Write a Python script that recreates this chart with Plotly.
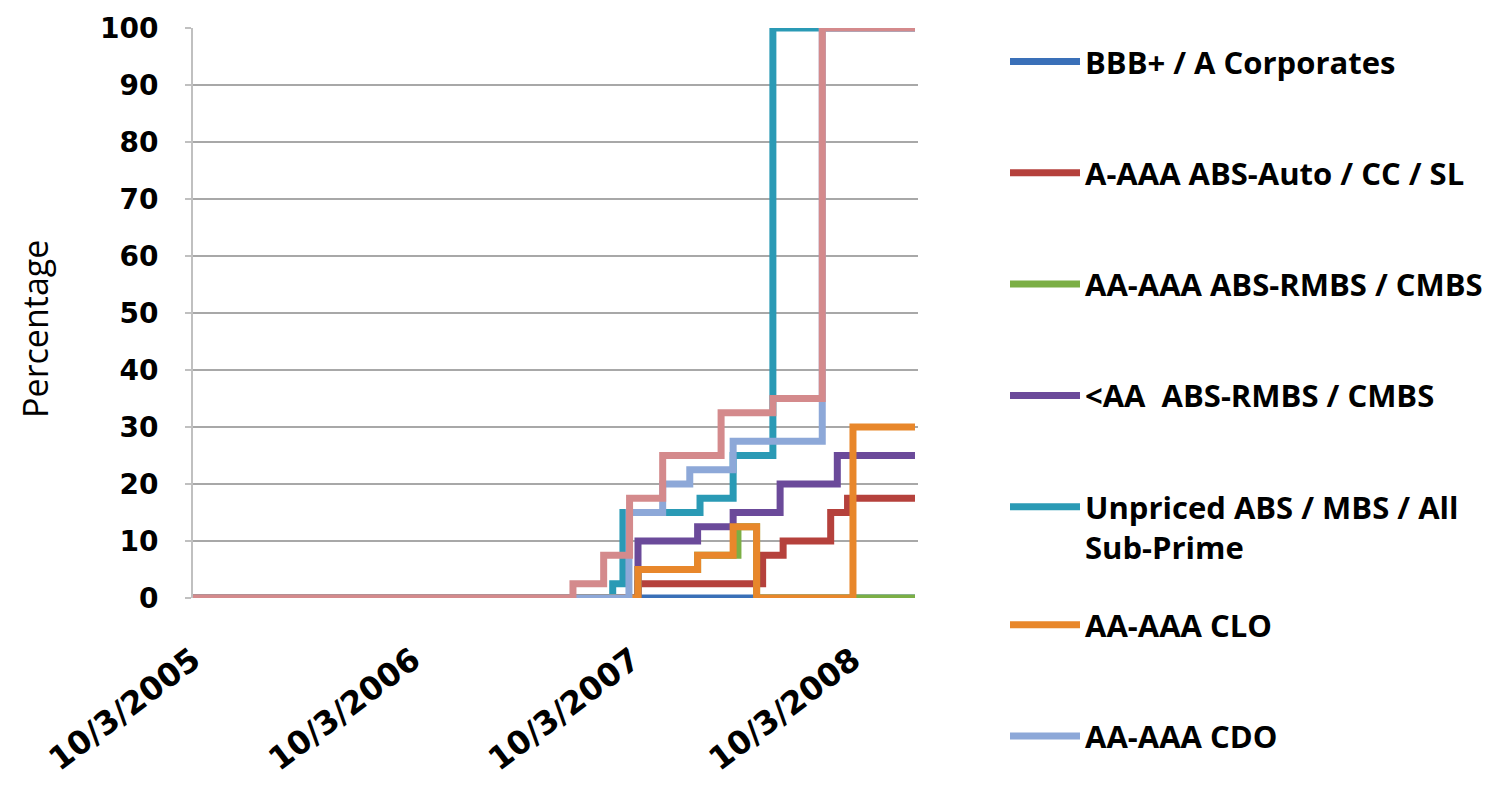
import plotly.graph_objects as go

# ---- data (step functions: value holds from each date until the next) ----
tick_dates = ["2005-10-03", "2006-10-03", "2007-10-03", "2008-10-03"]
tick_labels = ["10/3/2005", "10/3/2006", "10/3/2007", "10/3/2008"]

bbb_dates = ["2005-10-03", "2009-01-14"]
bbb_vals = [0, 0]

auto_dates = ["2005-10-03", "2007-10-12", "2008-05-06", "2008-06-09", "2008-08-27", "2008-09-24", "2009-01-14"]
auto_vals = [0, 2.5, 7.5, 10, 15, 17.5, 17.5]

rmbs_hi_dates = ["2005-10-03", "2007-10-12", "2008-01-19", "2008-03-26", "2008-04-26", "2009-01-14"]
rmbs_hi_vals = [0, 5, 7.5, 12.5, 0, 0]

rmbs_lo_dates = ["2005-10-03", "2007-10-12", "2008-01-19", "2008-03-18", "2008-06-04", "2008-09-07", "2009-01-14"]
rmbs_lo_vals = [0, 10, 12.5, 15, 20, 25, 25]

unpriced_dates = ["2005-10-03", "2007-08-31", "2007-09-17", "2008-01-23", "2008-03-18", "2008-05-23", "2009-01-14"]
unpriced_vals = [0, 2.5, 15, 17.5, 25, 100, 100]

clo_dates = ["2005-10-03", "2007-10-12", "2008-01-19", "2008-03-18", "2008-04-26", "2008-10-03", "2009-01-14"]
clo_vals = [0, 5, 7.5, 12.5, 0, 30, 30]

cdo_dates = ["2005-10-03", "2007-09-27", "2007-11-22", "2008-01-06", "2008-03-18", "2008-08-13", "2009-01-14"]
cdo_vals = [0, 15, 20, 22.5, 27.5, 100, 100]

other_dates = ["2005-10-03", "2007-06-26", "2007-08-16", "2007-09-28", "2007-11-22", "2008-02-27", "2008-05-23", "2008-08-13", "2009-01-14"]
other_vals = [0, 2.5, 7.5, 17.5, 25, 32.5, 35, 100, 100]

series = [
    ("BBB+ / A Corporates", bbb_dates, bbb_vals, "#3A70B8", True, "legend"),
    ("A-AAA ABS-Auto / CC / SL", auto_dates, auto_vals, "#B5413C", True, "legend"),
    ("AA-AAA ABS-RMBS / CMBS", rmbs_hi_dates, rmbs_hi_vals, "#7BAF45", True, "legend"),
    ("<AA  ABS-RMBS / CMBS", rmbs_lo_dates, rmbs_lo_vals, "#6B4A9A", True, "legend"),
    ("Unpriced ABS / MBS / All<br>Sub-Prime", unpriced_dates, unpriced_vals, "#2A9AB5", True, "legend"),
    ("AA-AAA CLO", clo_dates, clo_vals, "#E8872B", True, "legend2"),
    ("AA-AAA CDO", cdo_dates, cdo_vals, "#8DA8D8", True, "legend2"),
    ("Other", other_dates, other_vals, "#D48A8C", False, "legend"),
]

fig = go.Figure()
for i, (name, d, v, c, show, lg) in enumerate(series):
    fig.add_trace(go.Scatter(
        x=d, y=v, name=name, mode="lines",
        line=dict(color=c, width=7, shape="hv"),
        showlegend=show, legendgroup="g%d" % i, legend=lg,
    ))

legend_font = dict(family="Open Sans", size=31, color="black", weight=700)
fig.update_layout(
    width=1510, height=812,
    paper_bgcolor="white", plot_bgcolor="white",
    margin=dict(l=193, r=592, t=28, b=214, autoexpand=False),
    font=dict(family="Open Sans", color="black"),
    legend=dict(
        x=1.120, y=0.988, xanchor="left", yanchor="top",
        font=legend_font, itemwidth=70,
        tracegroupgap=68, valign="top", bgcolor="rgba(0,0,0,0)",
        maxheight=800,
    ),
    legend2=dict(
        x=1.120, y=0.0, xanchor="left", yanchor="top",
        font=legend_font, itemwidth=70,
        tracegroupgap=68, valign="top", bgcolor="rgba(0,0,0,0)",
        maxheight=800,
    ),
    showlegend=True,
    annotations=[dict(
        text="Percentage", xref="paper", yref="paper",
        x=-0.218, y=0.472, xanchor="center", yanchor="middle",
        textangle=-90, showarrow=False,
        font=dict(family="Open Sans", size=34, color="black"),
    )],
)

fig.update_xaxes(
    type="date", range=["2005-10-03", "2009-01-19"], automargin=False,
    tickvals=tick_dates, ticktext=tick_labels, tickangle=-37,
    tickfont=dict(family="DejaVu Sans", size=32, color="black", weight="bold"),
    ticklabelstandoff=36,
    showgrid=False, showline=False, zeroline=False, ticks="",
)

fig.update_yaxes(
    range=[0, 100], dtick=10, tick0=0, automargin=False,
    tickfont=dict(family="DejaVu Sans", size=28, color="black", weight="bold"),
    showgrid=True, gridcolor="#A8A8A8", gridwidth=2,
    showline=True, linecolor="#C0C0C0", linewidth=2,
    ticks="outside", ticklen=6, tickcolor="#C0C0C0", tickwidth=2,
    ticklabelstandoff=21, zeroline=False,
)

fig.write_html("out.html", config={"displayModeBar": False},
               post_script="document.body.style.margin='0px';")
